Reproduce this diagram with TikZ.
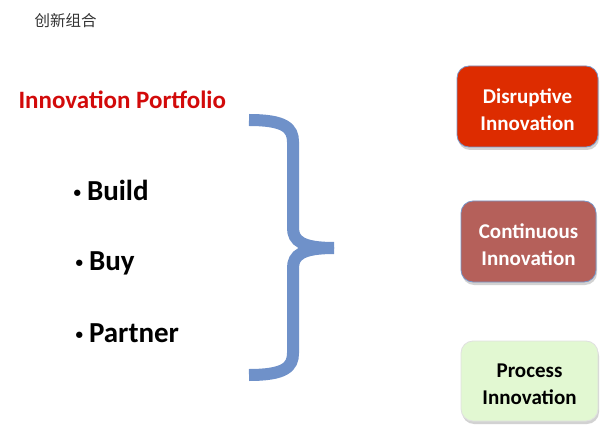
\documentclass[tikz,border=0pt]{standalone}
\usepackage{fontspec}
\setmainfont{Carlito}
\newfontfamily\cjk{Noto Sans CJK SC}
\usetikzlibrary{shadows}
\definecolor{bracecol}{RGB}{111,145,201}
\definecolor{portred}{RGB}{210,10,10}
\definecolor{disred}{RGB}{221,44,0}
\definecolor{conred}{RGB}{181,96,90}
\definecolor{progreen}{RGB}{226,248,210}
\definecolor{edgeblue}{RGB}{120,150,200}
\newcommand{\smalldot}{{\fontsize{15}{15}\selectfont\raisebox{2.5pt}{•}}\hspace{6pt}}
\tikzset{
  itembox/.style={rounded corners=12pt, minimum width=139pt, minimum height=81pt,
    align=center, font=\bfseries\fontsize{21}{27}\selectfont, line width=0.8pt,
    drop shadow={shadow xshift=1pt, shadow yshift=-3pt, fill=black!35}},
  bulletitem/.style={anchor=west, font=\bfseries\fontsize{29}{32}\selectfont}
}
\begin{document}
\begin{tikzpicture}[x=1pt,y=-1pt]
        \useasboundingbox (0,0) rectangle (615,438);

        % Title
        \node[anchor=west, text=black!80, font=\cjk\fontsize{15.5}{18}\selectfont] (title) at (31,21) {创新组合};
        \node[anchor=west, text=portred, font=\bfseries\fontsize{25}{28}\selectfont] (portfolio) at (15,100) {Innovation Portfolio};

        % Bullets
        \node[bulletitem] (build) at (70,190) {\smalldot Build};
        \node[bulletitem] (buy) at (72,263) {\smalldot Buy};
        \node[bulletitem] (partner) at (72,333) {\smalldot Partner};

        % Brace
        \draw[bracecol, line width=12pt] (249,120) .. controls (285,120) and (293,128) .. (293,142)
          -- (293,228) .. controls (293,241) and (302,248) .. (334,248);
        \draw[bracecol, line width=12pt] (334,248) .. controls (302,248) and (293,255) .. (293,268)
          -- (293,353) .. controls (293,367) and (285,375) .. (249,375);

        % Boxes
        \node[itembox, fill=disred, draw=edgeblue, text=white, minimum width=141pt] (disruptive) at (527.5,106.5) {\\[-6pt]Disruptive\\Innovation};
        \node[itembox, fill=conred, draw=edgeblue, text=white, minimum width=135pt] (continuous) at (528.5,241.5) {\\[-6pt]Continuous\\Innovation};
        \node[itembox, fill=progreen, draw=black!12, text=black, minimum width=137pt, minimum height=80pt] (process) at (529.5,381) {\\[-6pt]Process\\Innovation};
      \end{tikzpicture}
\end{document}
